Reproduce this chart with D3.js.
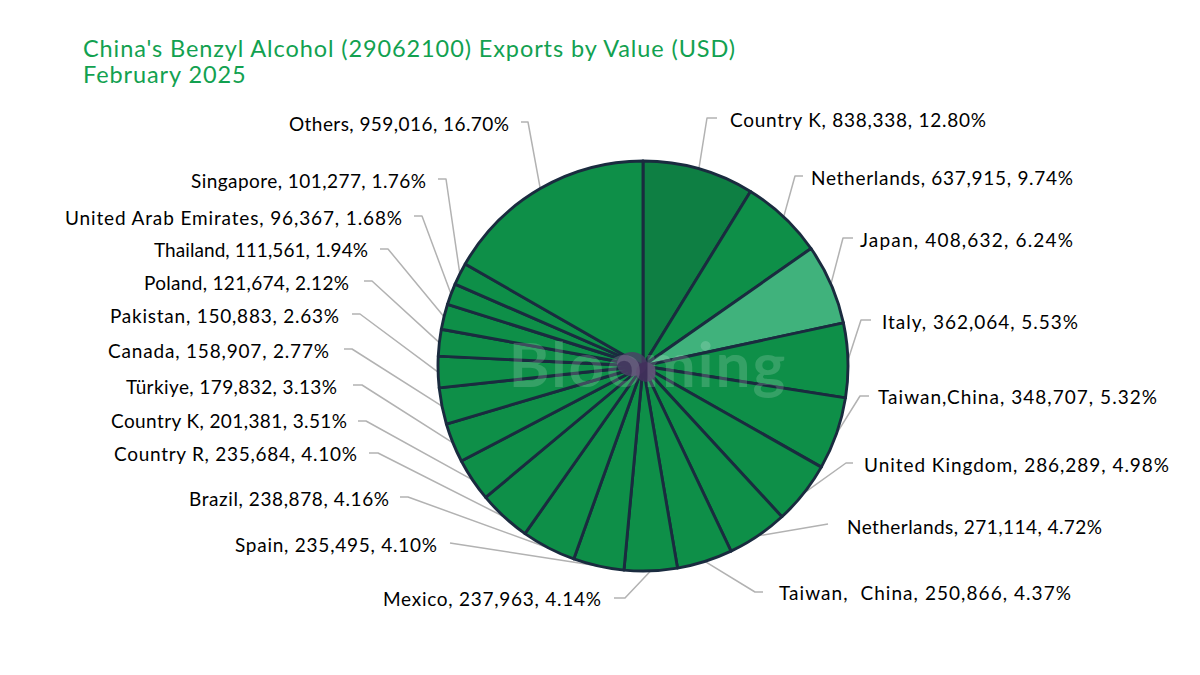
<!DOCTYPE html>
<html lang="en">

<head>
  <meta charset="UTF-8">
  <title>China's Benzyl Alcohol Exports</title>
  <script src="https://d3js.org/d3.v7.min.js"></script>
  <style>
    body { margin: 0; background: #fff; }
    text { font-family: Lato, "Open Sans", sans-serif; }
  </style>
</head>

<body>
  <div id="chart"></div>

  <script>
    // printed labels, clockwise from 12 o'clock
    const countries = ["Country K", "Netherlands", "Japan", "Italy", "Taiwan,China", "United Kingdom", "Netherlands",
      "Taiwan,  China", "Mexico", "Spain", "Brazil", "Country R", "Country K", "Türkiye", "Canada", "Pakistan",
      "Poland", "Thailand", "United Arab Emirates", "Singapore", "Others"];
    const usdValues = [838338, 637915, 408632, 362064, 348707, 286289, 271114, 250866, 237963, 235495, 238878,
      235684, 201381, 179832, 158907, 150883, 121674, 111561, 96367, 101277, 959016];
    const percents = ["12.80", "9.74", "6.24", "5.53", "5.32", "4.98", "4.72", "4.37", "4.14", "4.10", "4.16",
      "4.10", "3.51", "3.13", "2.77", "2.63", "2.12", "1.94", "1.68", "1.76", "16.70"];
    // the drawn slices do not follow the printed numbers, so these are read off the picture (% of circle)
    const sliceShares = [8.78, 6.5, 6.33, 5.86, 5.72, 4.94, 4.78, 4.37, 4.17, 4.0, 4.28, 4.16, 3.4, 3.1, 2.86,
      2.47, 2.1, 2.0, 1.67, 1.75, 16.7];

    // label layout: [text x, text y, elbow x, elbow y, tail x, text width]
    const labelLayout = [
      [730, 120, 707, 118, 717, 256], [811, 178, 795, 176, 803, 262], [860, 240, 843, 238, 853, 213], [882, 322, 861, 320, 871, 196],
      [878, 397, 860, 396, 869, 279], [864, 465, 846, 463, 853, 305], [847, 527, 828, 524, 828, 255], [779, 593, 755, 592, 763, 292],
      [601, 599, 625, 598, 614, 218], [437, 545, 450, 543, 450, 202], [389, 499, 408, 497, 400, 200], [357, 454, 378, 453, 369, 243],
      [347, 421, 366, 421, 358, 236], [337, 387, 362, 385, 353, 211], [329, 351, 352, 349, 344, 221], [339, 316, 360, 314, 352, 229],
      [349, 283, 372, 281, 364, 205], [368, 250, 388, 249, 380, 214], [402, 218, 422, 216, 414, 337], [426, 181, 446, 179, 438, 235],
      [509, 124, 528, 122, 521, 220]
    ];

    const width = 1200, height = 675;
    const cx = 643, cy = 366, radius = 205;
    const titleColor = "#12a150";
    const sliceColor = (i) => i === 0 ? "#0e7f43" : i === 2 ? "#40b27c" : "#0e8f48";

    const svg = d3.select("#chart").append("svg")
      .attr("width", width)
      .attr("height", height)
      .style("display", "block");

    svg.selectAll(".title")
      .data(["China's Benzyl Alcohol (29062100) Exports by Value (USD)", "February 2025"])
      .enter()
      .append("text")
      .attr("class", "title")
      .attr("x", 83)
      .attr("y", (d, i) => 57 + i * 26)
      .attr("font-size", 23.5)
      .attr("letter-spacing", 0.9)
      .attr("fill", titleColor)
      .text((d) => d);

    const pie = d3.pie().sort(null).value((d) => d);
    const arcs = pie(sliceShares);
    const arc = d3.arc().innerRadius(0).outerRadius(radius);
    const edge = d3.arc().innerRadius(radius).outerRadius(radius);

    // leader lines go under the pie
    svg.selectAll(".leader")
      .data(arcs)
      .enter()
      .append("polyline")
      .attr("class", "leader")
      .attr("fill", "none")
      .attr("stroke", "#b2b2b2")
      .attr("stroke-width", 1.5)
      .attr("stroke-linejoin", "round")
      .attr("points", (d, i) => {
        const p = edge.centroid(d), l = labelLayout[i];
        return [[cx + p[0], cy + p[1]], [l[2], l[3]], [l[4], l[3]]].join(" ");
      });

    const g = svg.append("g").attr("transform", "translate(" + cx + "," + cy + ")");

    g.selectAll(".slice")
      .data(arcs)
      .enter()
      .append("path")
      .attr("class", "slice")
      .attr("d", arc)
      .attr("fill", (d, i) => sliceColor(i))
      .attr("stroke", "#1a2b3f")
      .attr("stroke-width", 2.9)
      .attr("stroke-linejoin", "round");

    // purple smudge where the strokes meet
    g.append("ellipse").attr("cx", -11).attr("cy", -2).attr("rx", 15).attr("ry", 12).attr("fill", "#4e3d68").attr("opacity", 0.8);
    g.append("circle").attr("cx", 3).attr("cy", 6).attr("r", 10).attr("fill", "#43305c").attr("opacity", 0.9);

    // watermark
    svg.append("text")
      .attr("x", 648)
      .attr("y", 387)
      .attr("text-anchor", "middle")
      .attr("font-size", 62)
      .attr("font-weight", 700)
      .attr("letter-spacing", 2)
      .attr("fill", "#fff")
      .attr("opacity", 0.16)
      .text("Blooming");

    svg.selectAll(".label")
      .data(countries)
      .enter()
      .append("text")
      .attr("class", "label")
      .attr("x", (d, i) => labelLayout[i][0])
      .attr("y", (d, i) => labelLayout[i][1])
      .attr("dy", "0.35em")
      .attr("text-anchor", (d, i) => i >= 8 ? "end" : "start")
      .attr("textLength", (d, i) => labelLayout[i][5])
      .attr("lengthAdjust", "spacing")
      .attr("font-size", 19)
      .attr("fill", "#000")
      .style("white-space", "pre")
      .text((d, i) => d + ", " + d3.format(",")(usdValues[i]) + ", " + percents[i] + "%");
  </script>
</body>

</html>
